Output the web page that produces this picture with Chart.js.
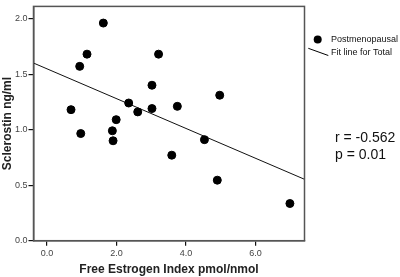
<!DOCTYPE html>
<html>
<head>
<meta charset="utf-8">
<script src="https://cdn.jsdelivr.net/npm/chart.js@4"></script>
<style>
  html, body { margin: 0; padding: 0; background: #fff; }
  #wrap { width: 400px; height: 277px; position: relative; }
</style>
</head>
<body>
<div id="wrap"><canvas id="myChart"></canvas></div>
<script>
// Free Estrogen Index (x) vs Sclerostin (y), postmenopausal
const feiValues = [1.62, 1.15, 0.94, 3.21, 3.02, 0.69, 2.35, 2.61, 3.02, 3.75, 1.99, 1.88, 0.97, 1.90, 3.59, 4.97, 4.53, 4.90, 6.99];
const sclerostinValues = [1.96, 1.68, 1.57, 1.68, 1.40, 1.18, 1.24, 1.16, 1.19, 1.21, 1.09, 0.99, 0.965, 0.90, 0.77, 1.31, 0.91, 0.545, 0.335];
// fit line for total, end points at the axis edges
const fitX = [-0.39, 7.41];
const fitY = [1.60, 0.553];
const legendLabels = ["Postmenopausal", "Fit line for Total"];
const statLines = ["r = -0.562", "p = 0.01"];

const font = "'Liberation Sans', Arial, sans-serif";

const scatterData = feiValues.map((x, i) => ({ x: x, y: sclerostinValues[i] }));
const fitData = fitX.map((x, i) => ({ x: x, y: fitY[i] }));

// frame, legend and r/p text
const extras = {
  id: "extras",
  afterDraw(chart) {
    const ctx = chart.ctx;
    const a = chart.chartArea;
    ctx.save();
    ctx.strokeStyle = "#555";
    ctx.lineWidth = 1.5;
    ctx.strokeRect(a.left, a.top, a.right - a.left, a.bottom - a.top);

    // legend
    ctx.fillStyle = "#000";
    ctx.beginPath();
    ctx.arc(317.7, 39.5, 4, 0, Math.PI * 2);
    ctx.fill();
    ctx.strokeStyle = "#000";
    ctx.lineWidth = 1;
    ctx.beginPath();
    ctx.moveTo(308.3, 48.3);
    ctx.lineTo(328.3, 55.5);
    ctx.stroke();
    ctx.font = "9px " + font;
    ctx.textBaseline = "middle";
    ctx.fillStyle = "#111";
    ctx.fillText(legendLabels[0], 331, 40);
    ctx.fillText(legendLabels[1], 331, 52.5);

    ctx.font = "14px " + font;
    ctx.fillText(statLines[0], 335, 138);
    ctx.fillText(statLines[1], 335, 155);
    ctx.restore();
  }
};

new Chart("myChart", {
  type: "scatter",
  data: {
    datasets: [
      {
        label: legendLabels[0],
        data: scatterData,
        backgroundColor: "#000",
        borderColor: "#000",
        pointRadius: 4,
        pointHoverRadius: 4
      },
      {
        type: "line",
        label: legendLabels[1],
        data: fitData,
        borderColor: "#111",
        borderWidth: 1,
        pointRadius: 0,
        fill: false
      }
    ]
  },
  options: {
    responsive: true,
    maintainAspectRatio: false,
    animation: false,
    layout: { padding: { top: 1, right: 95.5, left: 0, bottom: 0 } },
    plugins: { legend: { display: false }, tooltip: { enabled: false } },
    scales: {
      x: {
        type: "linear",
        min: -0.39,
        max: 7.41,
        afterFit(s) { s.height = 36.3; },
        ticks: {
          stepSize: 2,
          includeBounds: false,
          color: "#444",
          padding: 2,
          font: { size: 9, family: font },
          callback: v => v.toFixed(1)
        },
        grid: { drawOnChartArea: false, drawTicks: true, tickLength: 5, color: "#111", lineWidth: 1.2 },
        border: { display: true, color: "#555", width: 1.5 },
        title: {
          display: true,
          text: "Free Estrogen Index pmol/nmol",
          color: "#222",
          padding: { top: 3, bottom: 0 },
          font: { size: 12, weight: "bold", family: font }
        }
      },
      y: {
        min: 0,
        max: 2.11,
        afterFit(s) { s.width = 33.5; },
        ticks: {
          stepSize: 0.5,
          includeBounds: false,
          color: "#444",
          padding: 1,
          font: { size: 9, family: font },
          callback: v => v.toFixed(1)
        },
        grid: { drawOnChartArea: false, drawTicks: true, tickLength: 5, color: "#111", lineWidth: 1.2 },
        border: { display: true, color: "#555", width: 1.5 },
        title: {
          display: true,
          text: "Sclerostin ng/ml",
          color: "#222",
          padding: { top: 0, bottom: 0 },
          font: { size: 12, weight: "bold", family: font }
        }
      }
    }
  },
  plugins: [extras]
});
</script>
</body>
</html>
